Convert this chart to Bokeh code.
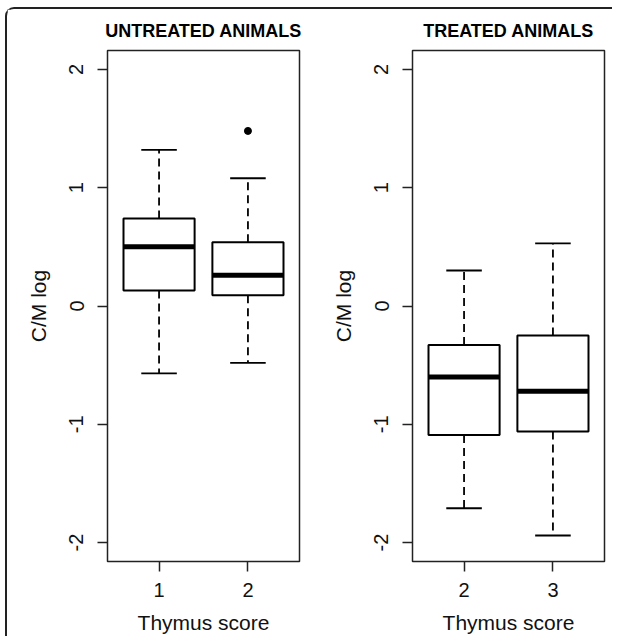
from bokeh.plotting import figure
from bokeh.models import Range1d, FixedTicker, Row
from bokeh.embed import file_html
from bokeh.resources import INLINE

# ---------------- data ----------------
y_ticks = [-2, -1, 0, 1, 2]
y_tick_labels = ["-2", "-1", "0", "1", "2"]

untreated_scores = ["1", "2"]
untreated_q1 = [0.13, 0.09]
untreated_median = [0.50, 0.26]
untreated_q3 = [0.74, 0.54]
untreated_lower = [-0.57, -0.48]
untreated_upper = [1.32, 1.08]
untreated_outlier_scores = ["2"]
untreated_outlier_values = [1.48]

treated_scores = ["2", "3"]
treated_q1 = [-1.09, -1.06]
treated_median = [-0.60, -0.72]
treated_q3 = [-0.33, -0.25]
treated_lower = [-1.71, -1.94]
treated_upper = [0.30, 0.53]
treated_outlier_scores = []
treated_outlier_values = []

FONT = "Liberation Sans"
BOXWEX = 0.8
STAPLE = 0.4


def panel(title, scores, q1, med, q3, lo, hi, out_s, out_v, mbl, mbr):
    pos = {s: i + 1 for i, s in enumerate(scores)}
    x = [pos[s] for s in scores]
    p = figure(frame_width=192, frame_height=511,
               x_range=Range1d(0.42, len(scores) + 0.58),
               y_range=Range1d(-2.16, 2.16),
               min_border_left=mbl, min_border_right=mbr,
               min_border_top=40, min_border_bottom=80,
               output_backend="svg", toolbar_location=None,
               background_fill_color="white", border_fill_color="white")
    p.grid.visible = False
    p.outline_line_color = "#222222"
    p.outline_line_width = 1.5
    p.outline_line_alpha = 1.0

    p.title.text = title
    p.title.align = "center"
    p.title.text_font = FONT
    p.title.text_font_size = "18px"
    p.title.text_font_style = "bold"
    p.title.text_color = "black"
    p.title.standoff = 19

    # whiskers
    p.segment(x0=x, x1=x, y0=q3, y1=hi, line_color="black", line_width=1.8,
              line_dash="8 5")
    p.segment(x0=x, x1=x, y0=q1, y1=lo, line_color="black", line_width=1.8,
              line_dash="8 5")
    # staples
    p.segment(x0=[v - STAPLE / 2 for v in x], x1=[v + STAPLE / 2 for v in x],
              y0=hi, y1=hi, line_color="black", line_width=1.8)
    p.segment(x0=[v - STAPLE / 2 for v in x], x1=[v + STAPLE / 2 for v in x],
              y0=lo, y1=lo, line_color="black", line_width=1.8)
    # boxes
    p.vbar(x=x, width=BOXWEX, bottom=q1, top=q3, fill_color="white",
           line_color="black", line_width=2)
    # medians
    p.segment(x0=[v - BOXWEX / 2 for v in x], x1=[v + BOXWEX / 2 for v in x],
              y0=med, y1=med, line_color="black", line_width=5, line_cap="butt")
    # outliers
    if out_s:
        p.scatter(x=[pos[s] for s in out_s], y=out_v, size=7,
                  fill_color="black", line_color="black")

    # axes
    p.xaxis.ticker = FixedTicker(ticks=x)
    p.xaxis.major_label_overrides = {v: s for v, s in zip(x, scores)}
    p.yaxis.ticker = FixedTicker(ticks=y_ticks)
    p.yaxis.major_label_overrides = {v: s for v, s in zip(y_ticks, y_tick_labels)}
    p.yaxis.major_label_orientation = "vertical"
    for ax in (p.xaxis, p.yaxis):
        ax.axis_line_color = None
        ax.major_tick_out = 10
        ax.major_tick_in = 0
        ax.minor_tick_line_color = None
        ax.major_tick_line_color = "#222222"
        ax.major_tick_line_width = 1.5
        ax.major_label_text_font = FONT
        ax.major_label_text_font_size = "20px"
        ax.major_label_text_color = "#111111"
        ax.axis_label_text_font = FONT
        ax.axis_label_text_font_size = "21px"
        ax.axis_label_text_font_style = "normal"
        ax.axis_label_text_color = "#111111"
    p.xaxis.axis_label = "Thymus score"
    p.yaxis.axis_label = "C/M log"
    p.xaxis.major_label_standoff = 11
    p.xaxis.axis_label_standoff = 11
    p.yaxis.major_label_standoff = 14
    p.yaxis.axis_label_standoff = 17
    return p


p1 = panel("UNTREATED ANIMALS", untreated_scores, untreated_q1, untreated_median,
           untreated_q3, untreated_lower, untreated_upper,
           untreated_outlier_scores, untreated_outlier_values, 100, 12)
p2 = panel("TREATED ANIMALS", treated_scores, treated_q1, treated_median,
           treated_q3, treated_lower, treated_upper,
           treated_outlier_scores, treated_outlier_values, 101, 8)

layout = Row(children=[p1, p2], spacing=0,
             styles={"border-top": "2px solid #222222",
                     "border-left": "2px solid #222222",
                     "border-top-left-radius": "9px",
                     "margin-left": "5px",
                     "margin-top": "7px",
                     "margin-bottom": "-20px"})

open("out.html", "w").write(file_html(layout, INLINE))
